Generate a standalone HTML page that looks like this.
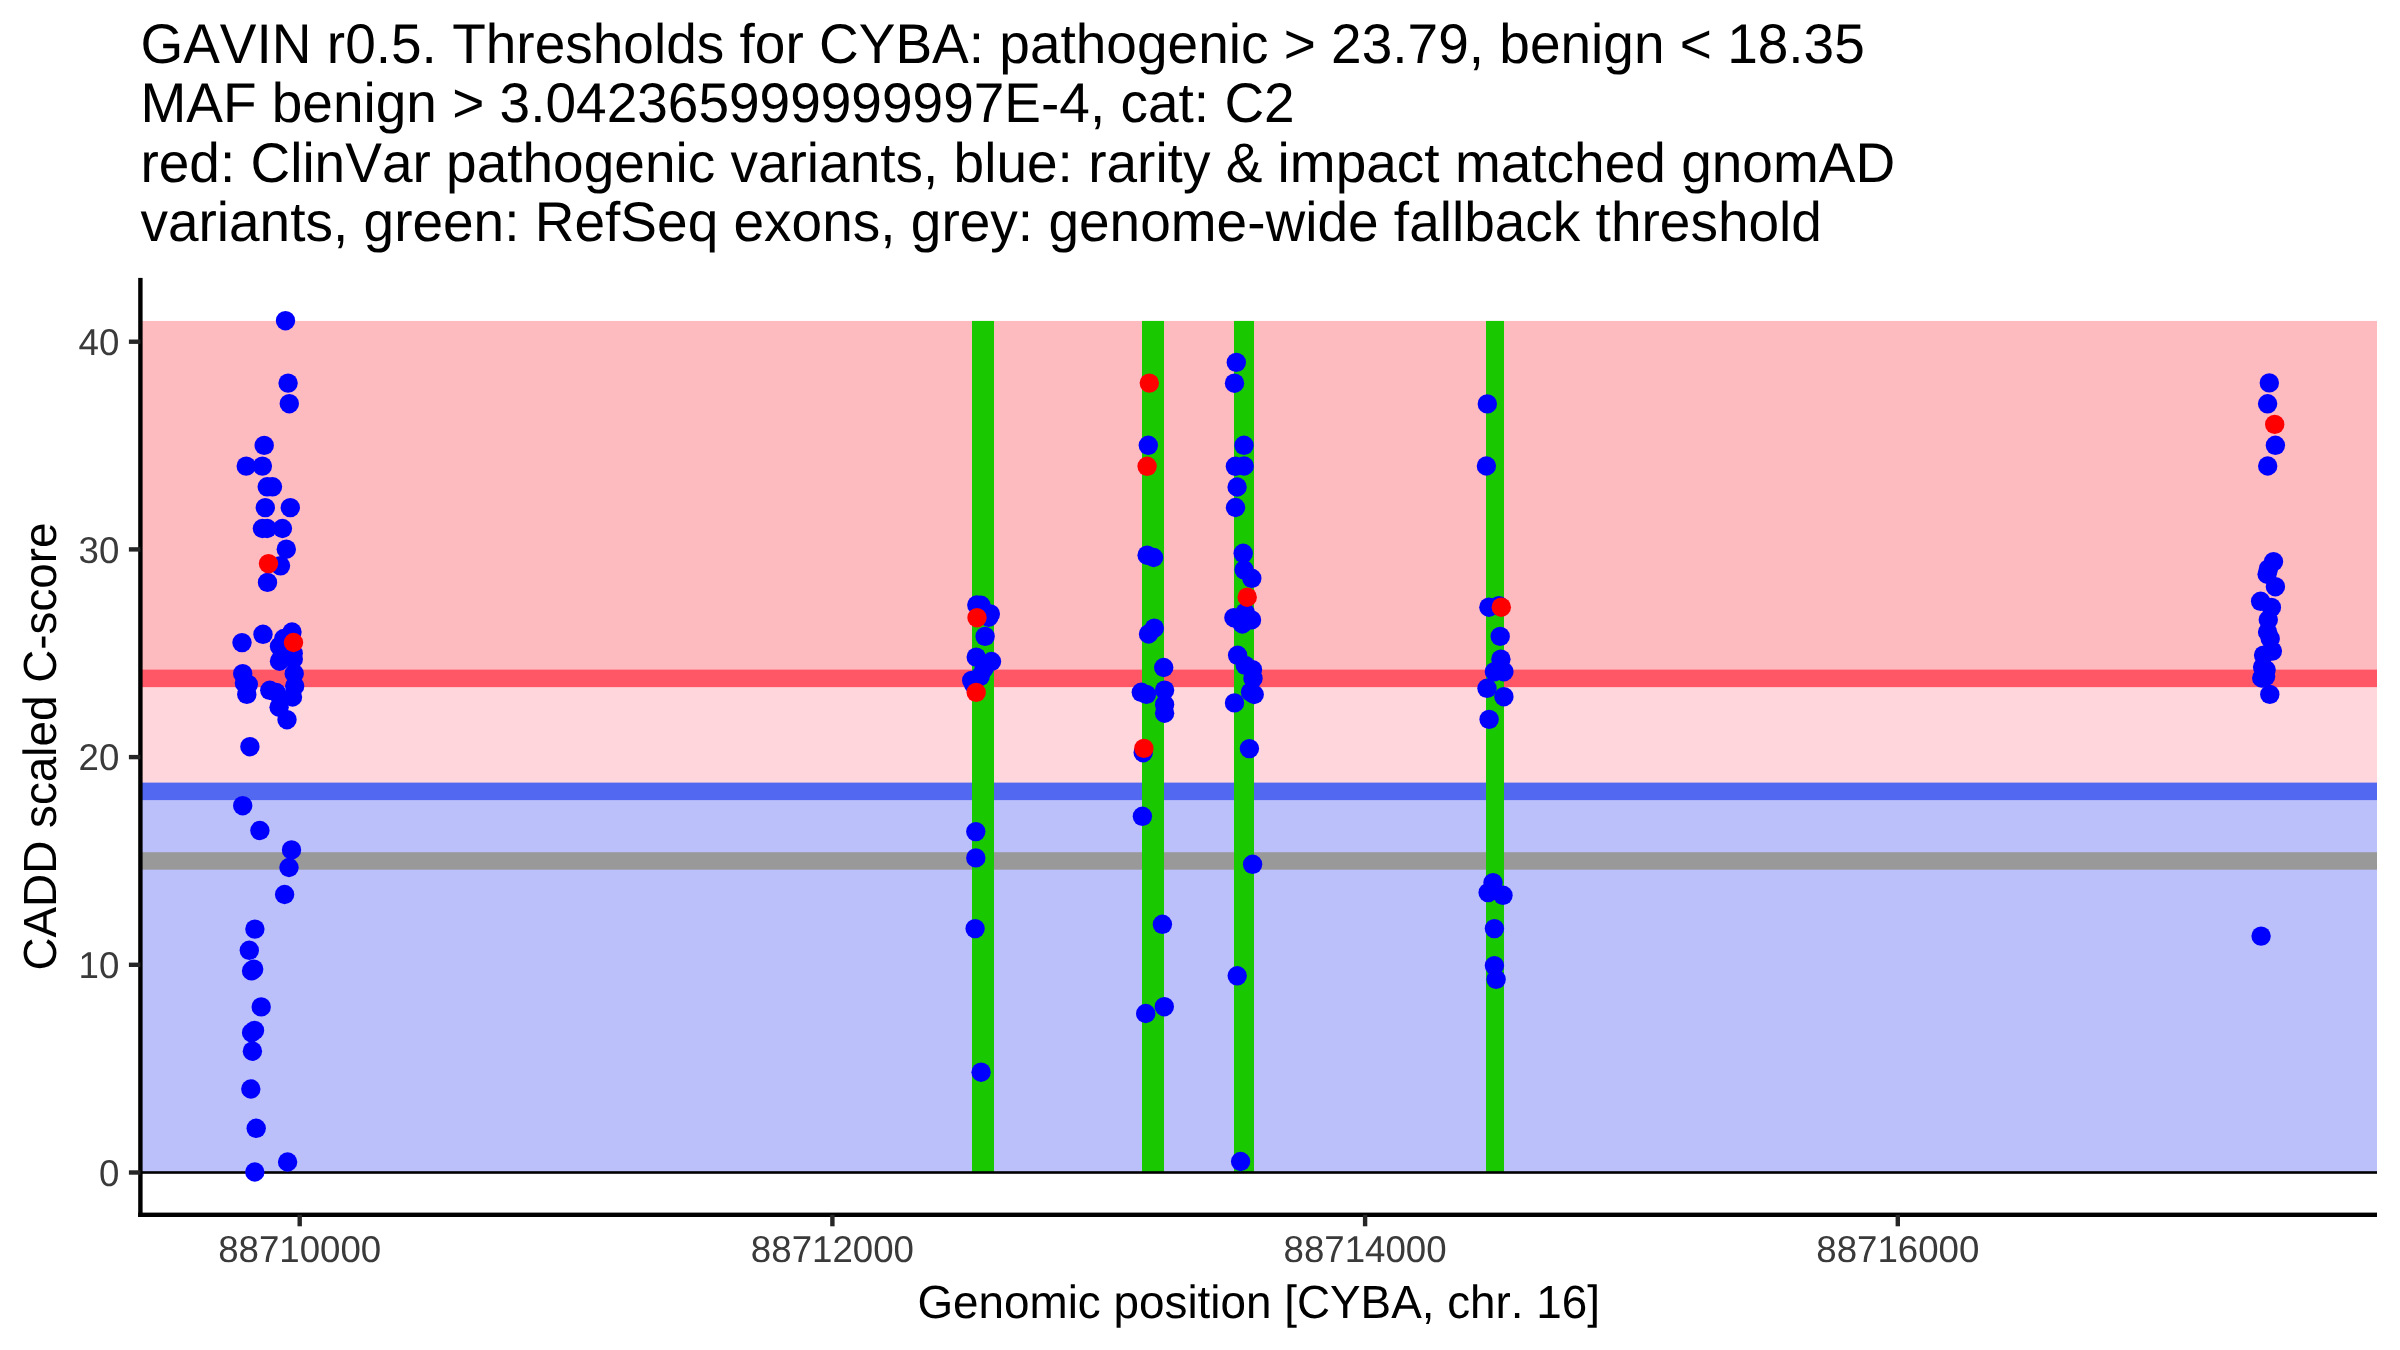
<!DOCTYPE html>
<html><head><meta charset="utf-8"><style>
html,body{margin:0;padding:0;background:#fff;width:2400px;height:1350px;overflow:hidden}
svg{display:block;will-change:transform}
text{font-family:"Liberation Sans",sans-serif;font-kerning:none;text-rendering:geometricPrecision}
.tt{font-size:55px;fill:#000}
.tk{font-size:36.67px;fill:#3A3A3A}
.at{font-size:45.83px;fill:#000}
</style></head><body>
<svg width="2400" height="1350" viewBox="0 0 2400 1350">
<rect width="2400" height="1350" fill="#fff"/>
<rect x="140.4" y="320.93" width="2236.60" height="357.45" fill="#FDBBC0"/>
<rect x="140.4" y="678.38" width="2236.60" height="112.99" fill="#FED6DB"/>
<rect x="140.4" y="791.37" width="2236.60" height="381.13" fill="#BBC0FA"/>
<rect x="140.4" y="669.63" width="2236.60" height="17.5" fill="#FF5766"/>
<rect x="140.4" y="782.62" width="2236.60" height="17.5" fill="#5268F0"/>
<rect x="140.4" y="852.20" width="2236.60" height="17.5" fill="#999999"/>
<rect x="972" y="320.93" width="22" height="851.57" fill="#1AC800"/>
<rect x="1142" y="320.93" width="22" height="851.57" fill="#1AC800"/>
<rect x="1234" y="320.93" width="20" height="851.57" fill="#1AC800"/>
<rect x="1486" y="320.93" width="18" height="851.57" fill="#1AC800"/>
<rect x="140.4" y="1171.20" width="2236.60" height="2.6" fill="#000"/>
<circle cx="285.5" cy="320.7" r="9.7" fill="#0000FF"/>
<circle cx="288.1" cy="383.1" r="9.7" fill="#0000FF"/>
<circle cx="289.3" cy="403.7" r="9.7" fill="#0000FF"/>
<circle cx="264.2" cy="445.4" r="9.7" fill="#0000FF"/>
<circle cx="246.2" cy="466.1" r="9.7" fill="#0000FF"/>
<circle cx="262.4" cy="466.1" r="9.7" fill="#0000FF"/>
<circle cx="267.2" cy="486.8" r="9.7" fill="#0000FF"/>
<circle cx="272.5" cy="486.8" r="9.7" fill="#0000FF"/>
<circle cx="265.3" cy="507.6" r="9.7" fill="#0000FF"/>
<circle cx="290.3" cy="507.6" r="9.7" fill="#0000FF"/>
<circle cx="262.4" cy="528.5" r="9.7" fill="#0000FF"/>
<circle cx="267.2" cy="528.5" r="9.7" fill="#0000FF"/>
<circle cx="282.4" cy="528.5" r="9.7" fill="#0000FF"/>
<circle cx="286.3" cy="549.2" r="9.7" fill="#0000FF"/>
<circle cx="280.5" cy="565.8" r="9.7" fill="#0000FF"/>
<circle cx="267.5" cy="582.4" r="9.7" fill="#0000FF"/>
<circle cx="263.0" cy="634.3" r="9.7" fill="#0000FF"/>
<circle cx="242.0" cy="642.6" r="9.7" fill="#0000FF"/>
<circle cx="292.0" cy="632.0" r="9.7" fill="#0000FF"/>
<circle cx="283.8" cy="638.5" r="9.7" fill="#0000FF"/>
<circle cx="279.5" cy="646.3" r="9.7" fill="#0000FF"/>
<circle cx="279.5" cy="661.2" r="9.7" fill="#0000FF"/>
<circle cx="293.2" cy="653.3" r="9.7" fill="#0000FF"/>
<circle cx="293.3" cy="659.0" r="9.7" fill="#0000FF"/>
<circle cx="294.2" cy="673.7" r="9.7" fill="#0000FF"/>
<circle cx="294.7" cy="686.0" r="9.7" fill="#0000FF"/>
<circle cx="269.8" cy="690.3" r="9.7" fill="#0000FF"/>
<circle cx="276.3" cy="692.5" r="9.7" fill="#0000FF"/>
<circle cx="292.5" cy="697.0" r="9.7" fill="#0000FF"/>
<circle cx="242.7" cy="673.7" r="9.7" fill="#0000FF"/>
<circle cx="244.4" cy="683.0" r="9.7" fill="#0000FF"/>
<circle cx="248.3" cy="684.4" r="9.7" fill="#0000FF"/>
<circle cx="246.8" cy="694.4" r="9.7" fill="#0000FF"/>
<circle cx="279.1" cy="707.2" r="9.7" fill="#0000FF"/>
<circle cx="287.0" cy="719.7" r="9.7" fill="#0000FF"/>
<circle cx="249.9" cy="746.7" r="9.7" fill="#0000FF"/>
<circle cx="242.7" cy="805.7" r="9.7" fill="#0000FF"/>
<circle cx="259.9" cy="830.5" r="9.7" fill="#0000FF"/>
<circle cx="291.5" cy="849.9" r="9.7" fill="#0000FF"/>
<circle cx="289.0" cy="867.5" r="9.7" fill="#0000FF"/>
<circle cx="284.6" cy="894.5" r="9.7" fill="#0000FF"/>
<circle cx="254.9" cy="929.1" r="9.7" fill="#0000FF"/>
<circle cx="249.3" cy="950.3" r="9.7" fill="#0000FF"/>
<circle cx="251.6" cy="970.9" r="9.7" fill="#0000FF"/>
<circle cx="253.7" cy="969.1" r="9.7" fill="#0000FF"/>
<circle cx="261.2" cy="1006.9" r="9.7" fill="#0000FF"/>
<circle cx="254.5" cy="1030.4" r="9.7" fill="#0000FF"/>
<circle cx="251.6" cy="1032.7" r="9.7" fill="#0000FF"/>
<circle cx="252.4" cy="1051.2" r="9.7" fill="#0000FF"/>
<circle cx="250.8" cy="1089.0" r="9.7" fill="#0000FF"/>
<circle cx="256.2" cy="1128.3" r="9.7" fill="#0000FF"/>
<circle cx="287.6" cy="1162.0" r="9.7" fill="#0000FF"/>
<circle cx="254.8" cy="1172.0" r="9.7" fill="#0000FF"/>
<circle cx="2269.3" cy="382.9" r="9.7" fill="#0000FF"/>
<circle cx="2267.6" cy="403.8" r="9.7" fill="#0000FF"/>
<circle cx="2275.4" cy="445.3" r="9.7" fill="#0000FF"/>
<circle cx="2267.7" cy="466.0" r="9.7" fill="#0000FF"/>
<circle cx="2273.5" cy="561.6" r="9.7" fill="#0000FF"/>
<circle cx="2268.4" cy="568.9" r="9.7" fill="#0000FF"/>
<circle cx="2267.1" cy="574.2" r="9.7" fill="#0000FF"/>
<circle cx="2275.4" cy="586.7" r="9.7" fill="#0000FF"/>
<circle cx="2260.6" cy="601.3" r="9.7" fill="#0000FF"/>
<circle cx="2271.4" cy="607.4" r="9.7" fill="#0000FF"/>
<circle cx="2268.3" cy="619.8" r="9.7" fill="#0000FF"/>
<circle cx="2267.6" cy="632.0" r="9.7" fill="#0000FF"/>
<circle cx="2270.2" cy="638.7" r="9.7" fill="#0000FF"/>
<circle cx="2272.4" cy="651.1" r="9.7" fill="#0000FF"/>
<circle cx="2263.6" cy="655.1" r="9.7" fill="#0000FF"/>
<circle cx="2262.6" cy="667.0" r="9.7" fill="#0000FF"/>
<circle cx="2266.1" cy="669.8" r="9.7" fill="#0000FF"/>
<circle cx="2261.7" cy="678.0" r="9.7" fill="#0000FF"/>
<circle cx="2265.6" cy="676.6" r="9.7" fill="#0000FF"/>
<circle cx="2269.8" cy="694.4" r="9.7" fill="#0000FF"/>
<circle cx="2261.1" cy="936.1" r="9.7" fill="#0000FF"/>
<circle cx="976.8" cy="605.0" r="9.7" fill="#0000FF"/>
<circle cx="980.9" cy="605.3" r="9.7" fill="#0000FF"/>
<circle cx="990.3" cy="613.9" r="9.7" fill="#0000FF"/>
<circle cx="988.7" cy="617.2" r="9.7" fill="#0000FF"/>
<circle cx="985.1" cy="636.4" r="9.7" fill="#0000FF"/>
<circle cx="976.2" cy="657.1" r="9.7" fill="#0000FF"/>
<circle cx="991.5" cy="661.5" r="9.7" fill="#0000FF"/>
<circle cx="984.1" cy="668.5" r="9.7" fill="#0000FF"/>
<circle cx="971.7" cy="680.4" r="9.7" fill="#0000FF"/>
<circle cx="973.7" cy="684.4" r="9.7" fill="#0000FF"/>
<circle cx="980.2" cy="676.3" r="9.7" fill="#0000FF"/>
<circle cx="975.8" cy="831.6" r="9.7" fill="#0000FF"/>
<circle cx="975.8" cy="857.9" r="9.7" fill="#0000FF"/>
<circle cx="975.1" cy="928.6" r="9.7" fill="#0000FF"/>
<circle cx="981.1" cy="1072.2" r="9.7" fill="#0000FF"/>
<circle cx="1148.3" cy="445.3" r="9.7" fill="#0000FF"/>
<circle cx="1147.1" cy="555.2" r="9.7" fill="#0000FF"/>
<circle cx="1153.6" cy="557.5" r="9.7" fill="#0000FF"/>
<circle cx="1154.3" cy="628.1" r="9.7" fill="#0000FF"/>
<circle cx="1148.5" cy="634.0" r="9.7" fill="#0000FF"/>
<circle cx="1163.7" cy="667.5" r="9.7" fill="#0000FF"/>
<circle cx="1141.3" cy="692.3" r="9.7" fill="#0000FF"/>
<circle cx="1146.4" cy="694.4" r="9.7" fill="#0000FF"/>
<circle cx="1164.6" cy="690.1" r="9.7" fill="#0000FF"/>
<circle cx="1164.6" cy="704.5" r="9.7" fill="#0000FF"/>
<circle cx="1164.6" cy="713.2" r="9.7" fill="#0000FF"/>
<circle cx="1143.2" cy="752.7" r="9.7" fill="#0000FF"/>
<circle cx="1142.4" cy="816.3" r="9.7" fill="#0000FF"/>
<circle cx="1162.4" cy="924.3" r="9.7" fill="#0000FF"/>
<circle cx="1164.3" cy="1006.7" r="9.7" fill="#0000FF"/>
<circle cx="1145.7" cy="1013.5" r="9.7" fill="#0000FF"/>
<circle cx="1236.3" cy="362.4" r="9.7" fill="#0000FF"/>
<circle cx="1234.5" cy="383.2" r="9.7" fill="#0000FF"/>
<circle cx="1244.0" cy="445.3" r="9.7" fill="#0000FF"/>
<circle cx="1235.4" cy="466.3" r="9.7" fill="#0000FF"/>
<circle cx="1244.2" cy="466.0" r="9.7" fill="#0000FF"/>
<circle cx="1237.1" cy="487.0" r="9.7" fill="#0000FF"/>
<circle cx="1235.5" cy="507.5" r="9.7" fill="#0000FF"/>
<circle cx="1243.2" cy="553.3" r="9.7" fill="#0000FF"/>
<circle cx="1244.1" cy="569.8" r="9.7" fill="#0000FF"/>
<circle cx="1251.8" cy="578.3" r="9.7" fill="#0000FF"/>
<circle cx="1245.1" cy="612.4" r="9.7" fill="#0000FF"/>
<circle cx="1233.9" cy="617.7" r="9.7" fill="#0000FF"/>
<circle cx="1251.5" cy="619.9" r="9.7" fill="#0000FF"/>
<circle cx="1242.4" cy="624.0" r="9.7" fill="#0000FF"/>
<circle cx="1237.6" cy="655.3" r="9.7" fill="#0000FF"/>
<circle cx="1245.3" cy="665.4" r="9.7" fill="#0000FF"/>
<circle cx="1252.5" cy="669.7" r="9.7" fill="#0000FF"/>
<circle cx="1253.0" cy="678.4" r="9.7" fill="#0000FF"/>
<circle cx="1254.2" cy="694.5" r="9.7" fill="#0000FF"/>
<circle cx="1250.5" cy="692.0" r="9.7" fill="#0000FF"/>
<circle cx="1234.5" cy="702.9" r="9.7" fill="#0000FF"/>
<circle cx="1249.4" cy="748.6" r="9.7" fill="#0000FF"/>
<circle cx="1252.6" cy="864.3" r="9.7" fill="#0000FF"/>
<circle cx="1237.2" cy="975.8" r="9.7" fill="#0000FF"/>
<circle cx="1240.6" cy="1161.5" r="9.7" fill="#0000FF"/>
<circle cx="1487.3" cy="403.9" r="9.7" fill="#0000FF"/>
<circle cx="1486.4" cy="466.0" r="9.7" fill="#0000FF"/>
<circle cx="1488.9" cy="607.2" r="9.7" fill="#0000FF"/>
<circle cx="1498.9" cy="605.6" r="9.7" fill="#0000FF"/>
<circle cx="1500.2" cy="636.4" r="9.7" fill="#0000FF"/>
<circle cx="1500.9" cy="659.2" r="9.7" fill="#0000FF"/>
<circle cx="1494.4" cy="671.7" r="9.7" fill="#0000FF"/>
<circle cx="1503.9" cy="671.7" r="9.7" fill="#0000FF"/>
<circle cx="1487.0" cy="688.3" r="9.7" fill="#0000FF"/>
<circle cx="1503.9" cy="696.7" r="9.7" fill="#0000FF"/>
<circle cx="1489.1" cy="719.4" r="9.7" fill="#0000FF"/>
<circle cx="1493.0" cy="882.6" r="9.7" fill="#0000FF"/>
<circle cx="1488.1" cy="892.6" r="9.7" fill="#0000FF"/>
<circle cx="1503.0" cy="895.3" r="9.7" fill="#0000FF"/>
<circle cx="1494.4" cy="928.6" r="9.7" fill="#0000FF"/>
<circle cx="1494.4" cy="965.6" r="9.7" fill="#0000FF"/>
<circle cx="1496.1" cy="979.4" r="9.7" fill="#0000FF"/>
<circle cx="268.5" cy="563.6" r="9.7" fill="#FF0000"/>
<circle cx="293.5" cy="642.5" r="9.7" fill="#FF0000"/>
<circle cx="2274.7" cy="424.4" r="9.7" fill="#FF0000"/>
<circle cx="977.0" cy="617.7" r="9.7" fill="#FF0000"/>
<circle cx="976.2" cy="692.4" r="9.7" fill="#FF0000"/>
<circle cx="1149.3" cy="383.1" r="9.7" fill="#FF0000"/>
<circle cx="1147.1" cy="466.3" r="9.7" fill="#FF0000"/>
<circle cx="1143.9" cy="748.4" r="9.7" fill="#FF0000"/>
<circle cx="1247.2" cy="597.2" r="9.7" fill="#FF0000"/>
<circle cx="1501.3" cy="607.2" r="9.7" fill="#FF0000"/>
<rect x="138.20" y="277.9" width="4.4" height="939.10" fill="#000"/>
<rect x="138.20" y="1212.60" width="2238.80" height="4.4" fill="#000"/>
<rect x="128.90" y="1170.30" width="11.5" height="4.4" fill="#262626"/>
<text transform="translate(119.40 1185.60) scale(1 1.02)" text-anchor="end" class="tk">0</text>
<rect x="128.90" y="962.60" width="11.5" height="4.4" fill="#262626"/>
<text transform="translate(119.40 977.90) scale(1 1.02)" text-anchor="end" class="tk">10</text>
<rect x="128.90" y="754.90" width="11.5" height="4.4" fill="#262626"/>
<text transform="translate(119.40 770.20) scale(1 1.02)" text-anchor="end" class="tk">20</text>
<rect x="128.90" y="547.20" width="11.5" height="4.4" fill="#262626"/>
<text transform="translate(119.40 562.50) scale(1 1.02)" text-anchor="end" class="tk">30</text>
<rect x="128.90" y="339.50" width="11.5" height="4.4" fill="#262626"/>
<text transform="translate(119.40 354.80) scale(1 1.02)" text-anchor="end" class="tk">40</text>
<rect x="297.50" y="1214.8" width="4.4" height="11.5" fill="#262626"/>
<text transform="translate(299.70 1261.8) scale(1 1.02)" text-anchor="middle" class="tk">88710000</text>
<rect x="830.20" y="1214.8" width="4.4" height="11.5" fill="#262626"/>
<text transform="translate(832.40 1261.8) scale(1 1.02)" text-anchor="middle" class="tk">88712000</text>
<rect x="1362.90" y="1214.8" width="4.4" height="11.5" fill="#262626"/>
<text transform="translate(1365.10 1261.8) scale(1 1.02)" text-anchor="middle" class="tk">88714000</text>
<rect x="1895.60" y="1214.8" width="4.4" height="11.5" fill="#262626"/>
<text transform="translate(1897.80 1261.8) scale(1 1.02)" text-anchor="middle" class="tk">88716000</text>
<text transform="translate(1258.7 1317.6) scale(1 1.015)" text-anchor="middle" class="at">Genomic position [CYBA, chr. 16]</text>
<text transform="translate(56.3 746.5) rotate(-90) scale(1 1.015)" text-anchor="middle" class="at">CADD scaled C-score</text>
<text transform="translate(140.4 62.90) scale(1 1.015)" class="tt">GAVIN r0.5. Thresholds for CYBA: pathogenic &gt; 23.79, benign &lt; 18.35</text>
<text transform="translate(140.4 122.23) scale(1 1.015)" class="tt">MAF benign &gt; 3.042365999999997E-4, cat: C2</text>
<text transform="translate(140.4 181.56) scale(1 1.015)" class="tt">red: ClinVar pathogenic variants, blue: rarity &amp; impact matched gnomAD</text>
<text transform="translate(140.4 240.89) scale(1 1.015)" class="tt">variants, green: RefSeq exons, grey: genome-wide fallback threshold</text>
</svg></body></html>
